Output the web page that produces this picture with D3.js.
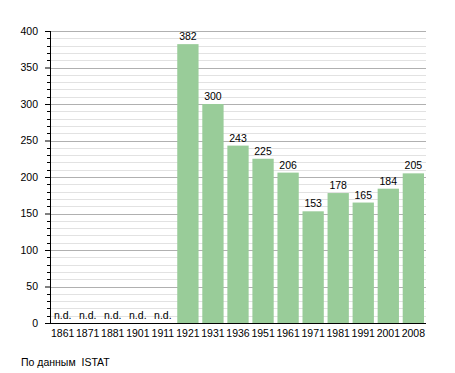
<!DOCTYPE html>
<html>
<head>
<meta charset="utf-8">
<script src="https://cdn.jsdelivr.net/npm/d3@7"></script>
<style>
  body { margin: 0; background: #fff; }
  svg text { font-family: "Liberation Sans", Arial, sans-serif; font-size: 10.5px; fill: #000; }
</style>
</head>
<body>
<svg id="chart"></svg>
<script>
// census years and inhabitants (null = no data)
const years = ["1861", "1871", "1881", "1901", "1911", "1921", "1931", "1936", "1951", "1961", "1971", "1981", "1991", "2001", "2008"];
const population = [null, null, null, null, null, 382, 300, 243, 225, 206, 153, 178, 165, 184, 205];
const yTicks = [0, 50, 100, 150, 200, 250, 300, 350, 400];
const sourceNote = "По данным  ISTAT";

const width = 455, height = 373;
const margin = { top: 31, right: 29, bottom: 50, left: 50 };
const innerW = width - margin.left - margin.right;
const innerH = height - margin.top - margin.bottom;

const data = years.map((y, i) => ({ year: y, value: population[i] }));

const svg = d3.select("#chart")
    .attr("width", width)
    .attr("height", height);

const chart = svg.append("g")
    .attr("transform", `translate(${margin.left},${margin.top})`);

const xScale = d3.scaleBand()
    .domain(years)
    .range([0, innerW])
    .paddingInner(0.15)
    .paddingOuter(0.08);

const yScale = d3.scaleLinear()
    .domain([0, 400])
    .range([innerH, 0]);

const minorVals = d3.range(10, 401, 10).filter(v => v % 50 !== 0);

// minor grid every 10
chart.append("g")
    .selectAll("line")
    .data(minorVals)
    .join("line")
    .attr("x1", 0)
    .attr("x2", innerW)
    .attr("y1", d => Math.round(yScale(d)) + 0.5)
    .attr("y2", d => Math.round(yScale(d)) + 0.5)
    .attr("stroke", "#e2e2e2");

// major grid every 50
chart.append("g")
    .selectAll("line")
    .data(yTicks.filter(v => v > 0))
    .join("line")
    .attr("x1", 0)
    .attr("x2", innerW)
    .attr("y1", d => Math.round(yScale(d)) + 0.5)
    .attr("y2", d => Math.round(yScale(d)) + 0.5)
    .attr("stroke", "#b0b0b0");

// bars
chart.selectAll("rect.bar")
    .data(data.filter(d => d.value !== null))
    .join("rect")
    .attr("class", "bar")
    .attr("x", d => xScale(d.year))
    .attr("y", d => yScale(d.value))
    .attr("width", xScale.bandwidth())
    .attr("height", d => innerH - yScale(d.value))
    .attr("fill", "#99cc99");

// value labels
chart.selectAll("text.val")
    .data(data)
    .join("text")
    .attr("class", "val")
    .attr("x", d => xScale(d.year) + xScale.bandwidth() / 2)
    .attr("y", d => d.value === null ? innerH - 4 : yScale(d.value) - 4)
    .attr("text-anchor", "middle")
    .text(d => d.value === null ? "n.d." : d.value);

// y axis with minor ticks
const yAxis = d3.axisLeft(yScale).tickValues(yTicks).tickSize(5).tickPadding(7);
const yAxisG = chart.append("g").call(yAxis);
yAxisG.attr("font-family", null).attr("font-size", null);
yAxisG.select(".domain").remove();

chart.append("g")
    .selectAll("line")
    .data(minorVals)
    .join("line")
    .attr("x1", -3)
    .attr("x2", 0)
    .attr("y1", d => Math.round(yScale(d)) + 0.5)
    .attr("y2", d => Math.round(yScale(d)) + 0.5)
    .attr("stroke", "#000");

chart.append("line")
    .attr("x1", 0.5).attr("x2", 0.5)
    .attr("y1", 0).attr("y2", innerH)
    .attr("stroke", "#000");

// x axis
const xAxis = d3.axisBottom(xScale).tickSize(0).tickPadding(7);
const xAxisG = chart.append("g")
    .attr("transform", `translate(0,${innerH})`)
    .call(xAxis);
xAxisG.attr("font-family", null).attr("font-size", null);
xAxisG.select(".domain").remove();
chart.append("line")
    .attr("x1", 0).attr("x2", innerW)
    .attr("y1", innerH + 0.5).attr("y2", innerH + 0.5)
    .attr("stroke", "#000");

svg.append("text")
    .attr("x", 21)
    .attr("y", 366)
    .style("white-space", "pre")
    .text(sourceNote);
</script>
</body>
</html>
